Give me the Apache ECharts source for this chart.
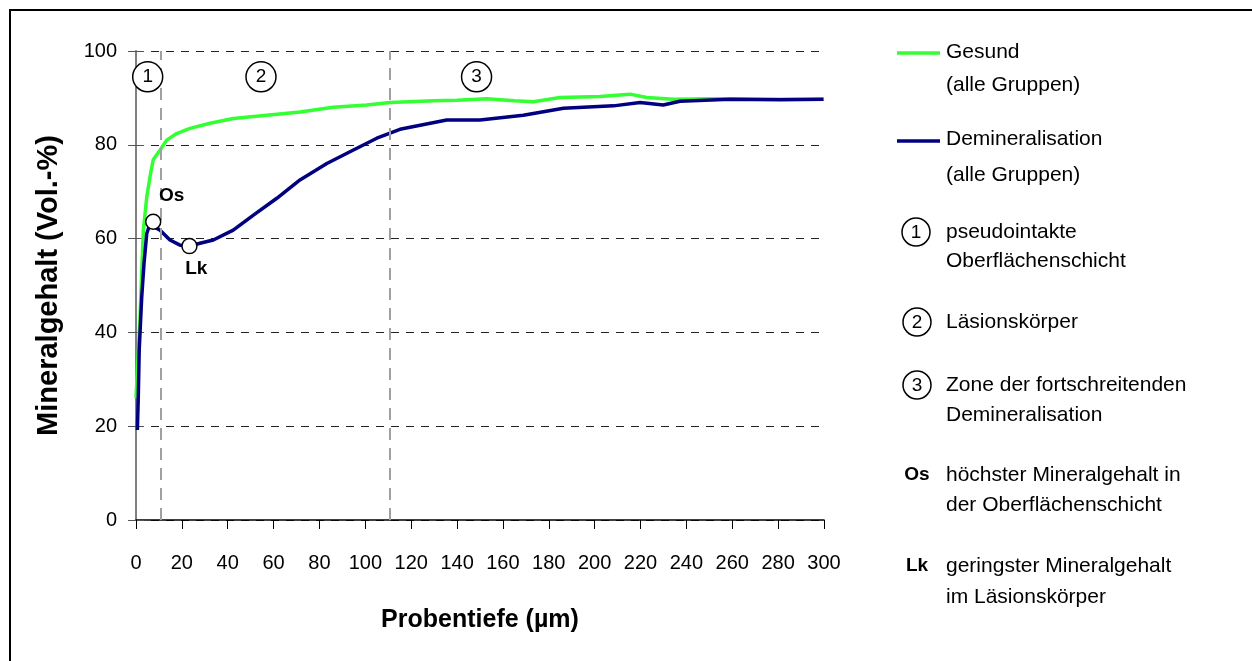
<!DOCTYPE html>
<html>
<head>
<meta charset="utf-8">
<script src="https://cdn.jsdelivr.net/npm/echarts@6/dist/echarts.min.js"></script>
<style>
  html, body { margin: 0; padding: 0; background: #fff; }
  #main { width: 1252px; height: 661px; }
</style>
</head>
<body>
<div id="main"></div>
<script>
// Mineralgehalt ueber Probentiefe
var gesundX = [0, 1.7, 3.2, 4.7, 6.1, 7.5, 10.5, 13.4, 17.7, 23.5, 32.3, 42.4, 57, 71.5, 86, 100.6, 110.8, 129.7, 140, 152.9, 165, 173.3, 184.9, 202.4, 215.4, 222.7, 234.3, 251.8, 275, 299.8];
var gesundY = [26, 42.6, 61.8, 68.9, 73.2, 76.8, 78.9, 81, 82.4, 83.5, 84.6, 85.6, 86.3, 87, 88, 88.5, 89, 89.4, 89.5, 89.8, 89.4, 89.2, 90.1, 90.3, 90.8, 90.1, 89.7, 89.8, 89.7, 89.7];

var deminX = [0.6, 1, 1.4, 2.5, 3.5, 4.7, 6, 7.5, 10.5, 14.8, 19.2, 23.3, 27.9, 33.7, 42.4, 51.2, 61.4, 71.5, 83.2, 94.8, 105, 115.1, 135.5, 150, 168.9, 186.4, 208.2, 219.8, 229.9, 237.2, 259, 280.8, 299.8];
var deminY = [19.2, 26.3, 36.2, 47.6, 54.7, 61.1, 63, 62.6, 61.8, 59.7, 58.6, 58.4, 59, 59.7, 61.8, 65, 68.6, 72.5, 76, 78.9, 81.4, 83.3, 85.3, 85.3, 86.3, 87.8, 88.3, 89, 88.5, 89.3, 89.7, 89.6, 89.7];

// Os / Lk
var pointNames = ['Os', 'Lk'];
var pointX = [7.5, 23.3];
var pointY = [63.6, 58.4];

// Zonen 1-3
var zoneNames = ['1', '2', '3'];
var zoneX = [5.1, 54.5, 148.5];
var zoneY = 94.5;
var zoneBorders = [11, 110.5];

var xTicks = { min: 0, max: 300, interval: 20 };
var yTicks = { min: 0, max: 100, interval: 20 };

var arial = "'Liberation Sans', Arial, sans-serif";

function pairs(xs, ys) {
    var out = [];
    for (var i = 0; i < xs.length; i++) out.push([xs[i], ys[i]]);
    return out;
}

var dom = document.getElementById('main');
var myChart = echarts.init(dom);

// legende rechts
var legendText = [
    { t: 'Gesund', y: 52 },
    { t: '(alle Gruppen)', y: 85 },
    { t: 'Demineralisation', y: 139 },
    { t: '(alle Gruppen)', y: 175 },
    { t: 'pseudointakte', y: 232 },
    { t: 'Oberflächenschicht', y: 261 },
    { t: 'Läsionskörper', y: 322 },
    { t: 'Zone der fortschreitenden', y: 385 },
    { t: 'Demineralisation', y: 415 },
    { t: 'höchster Mineralgehalt in', y: 475 },
    { t: 'der Oberflächenschicht', y: 505 },
    { t: 'geringster Mineralgehalt', y: 566 },
    { t: 'im Läsionskörper', y: 597 }
];
var graphics = [
    { type: 'rect', shape: { x: 10, y: 10, width: 1300, height: 700 },
      style: { fill: 'none', stroke: '#000', lineWidth: 2 }, silent: true },
    { type: 'line', shape: { x1: 897, y1: 53, x2: 940, y2: 53 }, style: { stroke: '#33ff33', lineWidth: 3.5 } },
    { type: 'line', shape: { x1: 897, y1: 141, x2: 940, y2: 141 }, style: { stroke: '#000080', lineWidth: 3.5 } }
];
legendText.forEach(function (d) {
    graphics.push({ type: 'text', x: 946, y: d.y,
        style: { text: d.t, font: '21px ' + arial, fill: '#000', textVerticalAlign: 'middle' } });
});
[[916, 232, '1'], [917, 322, '2'], [917, 385, '3']].forEach(function (c) {
    graphics.push({ type: 'circle', shape: { cx: c[0], cy: c[1], r: 14 },
        style: { fill: '#fff', stroke: '#000', lineWidth: 1.5 } });
    graphics.push({ type: 'text', x: c[0], y: c[1] + 1,
        style: { text: c[2], font: '19px ' + arial, fill: '#000', textAlign: 'center', textVerticalAlign: 'middle' } });
});
[[917, 475, 'Os'], [917, 566, 'Lk']].forEach(function (c) {
    graphics.push({ type: 'text', x: c[0], y: c[1],
        style: { text: c[2], font: 'bold 19px ' + arial, fill: '#000', textAlign: 'center', textVerticalAlign: 'middle' } });
});

option = {
    animation: false,
    backgroundColor: '#fff',
    grid: { left: 136, top: 51, right: 428, bottom: 141 },
    xAxis: {
        type: 'value',
        min: xTicks.min, max: xTicks.max, interval: xTicks.interval,
        name: 'Probentiefe (µm)',
        nameLocation: 'middle',
        nameGap: 88,
        nameTextStyle: { fontFamily: arial, fontWeight: 'bold', fontSize: 25, color: '#000' },
        axisLine: { onZero: false, lineStyle: { color: '#000', width: 1.5 } },
        axisTick: { inside: false, length: 9, lineStyle: { color: '#000' } },
        axisLabel: { fontFamily: arial, fontSize: 20, color: '#000', margin: 33 },
        splitLine: { show: false }
    },
    yAxis: [{
        type: 'value',
        min: yTicks.min, max: yTicks.max, interval: yTicks.interval,
        name: 'Mineralgehalt (Vol.-%)',
        nameLocation: 'middle',
        nameGap: 73,
        nameTextStyle: { fontFamily: arial, fontWeight: 'bold', fontSize: 29, color: '#000' },
        axisLine: { show: true, lineStyle: { color: '#808080', width: 2 } },
        axisTick: { show: true, length: 8, lineStyle: { color: '#555' } },
        axisLabel: { fontFamily: arial, fontSize: 20, color: '#000', margin: 19 },
        splitLine: { show: true, lineStyle: { color: '#222', type: [8, 7], width: 1 } }
    }, {
        // zweite achse nur fuer die nach innen zeigenden ticks
        type: 'value', position: 'left',
        min: yTicks.min, max: yTicks.max, interval: yTicks.interval,
        axisLine: { show: false },
        axisTick: { show: true, inside: true, length: 8, lineStyle: { color: '#555' } },
        axisLabel: { show: false },
        splitLine: { show: false }
    }],
    graphic: graphics,
    series: [
        {
            name: 'Gesund',
            type: 'line',
            data: pairs(gesundX, gesundY),
            symbol: 'none',
            lineStyle: { color: '#33ff33', width: 3.5 },
            z: 3,
            markLine: {
                silent: true,
                symbol: 'none',
                label: { show: false },
                lineStyle: { color: '#a0a0a0', type: [12, 8], width: 2 },
                data: zoneBorders.map(function (v) { return { xAxis: v }; })
            }
        },
        {
            name: 'Demineralisation',
            type: 'line',
            data: pairs(deminX, deminY),
            symbol: 'none',
            lineStyle: { color: '#000080', width: 3.5 },
            z: 4
        },
        {
            name: 'Punkte',
            type: 'scatter',
            data: pairs(pointX, pointY).map(function (p, i) {
                return {
                    value: p,
                    label: {
                        show: true, formatter: pointNames[i],
                        position: i === 0 ? [14, -27] : [4, 21]
                    }
                };
            }),
            symbol: 'circle',
            symbolSize: 15,
            itemStyle: { color: '#fff', borderColor: '#000', borderWidth: 1.5, opacity: 1 },
            label: { fontFamily: arial, fontWeight: 'bold', fontSize: 19, color: '#000' },
            z: 6
        },
        {
            name: 'Zonen',
            type: 'scatter',
            data: zoneX.map(function (x, i) {
                return { value: [x, zoneY], label: { show: true, formatter: zoneNames[i] } };
            }),
            symbol: 'circle',
            symbolSize: 30,
            itemStyle: { color: '#fff', borderColor: '#000', borderWidth: 1.5, opacity: 1 },
            label: { position: 'inside', fontFamily: arial, fontSize: 19, color: '#000' },
            z: 8
        }
    ]
};
if (option && typeof option === "object") {
    myChart.setOption(option, true);
}
</script>
</body>
</html>
